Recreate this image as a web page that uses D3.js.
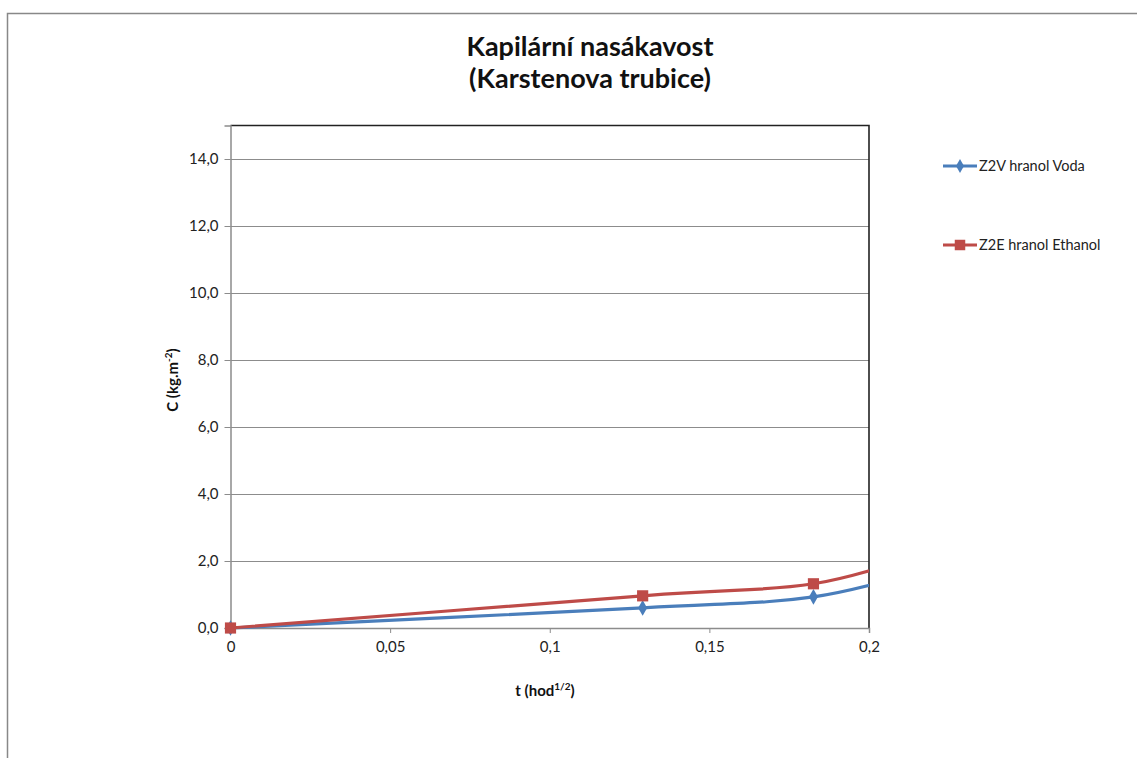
<!DOCTYPE html>
<html>
<head>
<meta charset="utf-8">
<script src="https://cdn.jsdelivr.net/npm/d3@7"></script>
<style>
  html, body { margin: 0; padding: 0; background: #fff; }
  svg { display: block; font-family: Lato, "Open Sans", "Liberation Sans", sans-serif; }
</style>
</head>
<body>
<svg id="chart" width="1137" height="758"></svg>
<script>
// t (hod^1/2) = sqrt(minutes / 60)
const times = [0, 0.1291, 0.1826, 0.2236, 0.2582];
const vodaValues = [0, 0.60, 0.93, 1.85, 2.40];
const ethanolValues = [0, 0.96, 1.32, 2.35, 2.90];
const xTicks = [0, 0.05, 0.1, 0.15, 0.2];
const yTicks = [0, 2, 4, 6, 8, 10, 12, 14];
const seriesNames = ["Z2V hranol Voda", "Z2E hranol Ethanol"];
const seriesColors = ["#4A7EBB", "#BE4B48"];

const svg = d3.select("#chart");
const W = 1137, H = 758;
const plot = { left: 230.5, right: 869, top: 125.5, bottom: 628 };

// outer chart frame
svg.append("rect")
  .attr("x", 7.5).attr("y", 13.5)
  .attr("width", W).attr("height", H)
  .attr("fill", "#fff").attr("stroke", "#888").attr("stroke-width", 1.5);

const x = d3.scaleLinear().domain([0, 0.2]).range([plot.left, plot.right]);
const y = d3.scaleLinear().domain([0, 15]).range([plot.bottom, plot.top]);

const fmt = d => d3.format(",.1f")(d).replace(".", ",");
const fmtX = d => String(d).replace(".", ",");

// gridlines
svg.append("g")
  .selectAll("line").data(yTicks.filter(d => d > 0)).join("line")
  .attr("x1", plot.left).attr("x2", plot.right)
  .attr("y1", d => Math.round(y(d)) + 0.5).attr("y2", d => Math.round(y(d)) + 0.5)
  .attr("stroke", "#8c8c8c").attr("stroke-width", 1);

// plot area top and right border
svg.append("path")
  .attr("d", `M${plot.left},${plot.top}H${plot.right}V${plot.bottom}`)
  .attr("fill", "none").attr("stroke", "#222").attr("stroke-width", 1.6);

// y axis
const yAxis = svg.append("g")
  .attr("transform", `translate(${plot.left},0)`)
  .call(d3.axisLeft(y).tickValues(yTicks).tickFormat(fmt).tickSize(6).tickPadding(6));
yAxis.select(".domain").attr("stroke", "#8c8c8c").attr("stroke-width", 1.5);
yAxis.selectAll(".tick line").attr("stroke", "#8c8c8c");
yAxis.selectAll("text").attr("font-size", 15).attr("fill", "#222")
  .style("font-family", "Lato, 'Open Sans', sans-serif");

// x axis
const xAxis = svg.append("g")
  .attr("transform", `translate(0,${plot.bottom})`)
  .call(d3.axisBottom(x).tickValues(xTicks).tickFormat(fmtX).tickSize(5).tickPadding(8));
xAxis.select(".domain").attr("stroke", "#8c8c8c").attr("stroke-width", 1.5);
xAxis.selectAll(".tick line").attr("stroke", "#8c8c8c");
xAxis.selectAll("text").attr("font-size", 15).attr("fill", "#222")
  .style("font-family", "Lato, 'Open Sans', sans-serif");

// series
svg.append("defs").append("clipPath").attr("id", "plotClip")
  .append("rect")
  .attr("x", plot.left).attr("y", plot.top)
  .attr("width", plot.right - plot.left).attr("height", plot.bottom - plot.top + 8);

const line = d3.line()
  .x(d => x(d[0])).y(d => y(d[1]))
  .curve(d3.curveCardinal.tension(0));

const series = [vodaValues, ethanolValues].map((vals, i) => ({
  name: seriesNames[i],
  color: seriesColors[i],
  points: times.map((t, j) => [t, vals[j]])
}));

const g = svg.append("g").attr("clip-path", "url(#plotClip)");
series.forEach(s => {
  g.append("path")
    .attr("d", line(s.points))
    .attr("fill", "none").attr("stroke", s.color).attr("stroke-width", 3.2)
    .attr("stroke-linejoin", "round");
});

const diamond = d3.symbol().type(d3.symbolDiamond).size(70);
const square = d3.symbol().type(d3.symbolSquare).size(125);

const inside = p => p[0] <= 0.2;
const mg = svg.append("g");
mg.selectAll(".m0").data(series[0].points.filter(inside)).join("path")
  .attr("transform", d => `translate(${x(d[0])},${y(d[1])})`)
  .attr("d", diamond).attr("fill", series[0].color);
mg.selectAll(".m1").data(series[1].points.filter(inside)).join("path")
  .attr("transform", d => `translate(${x(d[0])},${y(d[1])})`)
  .attr("d", square).attr("fill", series[1].color);

// legend
const legend = svg.append("g");
const legendY = [166, 245];
series.forEach((s, i) => {
  const ly = legendY[i];
  legend.append("line")
    .attr("x1", 943).attr("x2", 977).attr("y1", ly).attr("y2", ly)
    .attr("stroke", s.color).attr("stroke-width", 3.2);
  legend.append("path")
    .attr("transform", `translate(960,${ly})`)
    .attr("d", i === 0 ? d3.symbol().type(d3.symbolDiamond).size(55)() : d3.symbol().type(d3.symbolSquare).size(110)())
    .attr("fill", s.color);
  legend.append("text")
    .attr("x", 979).attr("y", ly).attr("dy", "0.35em")
    .attr("font-size", 14.5).attr("fill", "#222")
    .text(s.name);
});

// title
const title = svg.append("text")
  .attr("x", 590).attr("text-anchor", "middle")
  .attr("font-size", 27).attr("font-weight", "bold").attr("fill", "#111");
title.append("tspan").attr("x", 590).attr("y", 56).text("Kapilární nasákavost");
title.append("tspan").attr("x", 590).attr("y", 88).text("(Karstenova trubice)");

// axis titles
const xt = svg.append("text")
  .attr("x", 545).attr("y", 696).attr("text-anchor", "middle")
  .attr("font-size", 15).attr("font-weight", "bold").attr("fill", "#111");
xt.append("tspan").text("t (hod");
xt.append("tspan").attr("font-size", 10).attr("dy", -6).text("1/2");
xt.append("tspan").attr("dy", 6).text(")");

const yt = svg.append("text")
  .attr("transform", "translate(178,380) rotate(-90)")
  .attr("text-anchor", "middle")
  .attr("font-size", 15).attr("font-weight", "bold").attr("fill", "#111");
yt.append("tspan").text("C (kg.m");
yt.append("tspan").attr("font-size", 10).attr("dy", -6).text("-2");
yt.append("tspan").attr("dy", 6).text(")");
</script>
</body>
</html>
